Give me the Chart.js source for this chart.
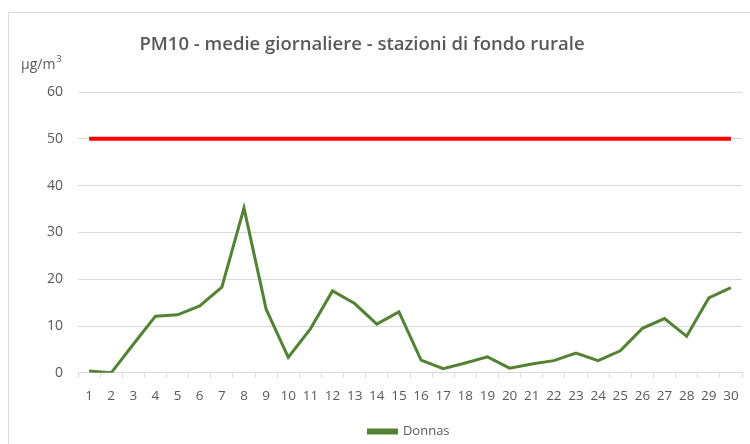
<!DOCTYPE html>
<html>
<head>
<meta charset="utf-8">
<script src="https://cdn.jsdelivr.net/npm/chart.js@4.4.1/dist/chart.umd.min.js"></script>
<style>
    body { margin: 0; background: #fff; }
    canvas { display: block; }
</style>
</head>
<body>
<canvas id="pmChart" width="750" height="444"></canvas>
<script>
// Dati
const giorni = ['1','2','3','4','5','6','7','8','9','10','11','12','13','14','15',
    '16','17','18','19','20','21','22','23','24','25','26','27','28','29','30'];
const donnas = [0.4, 0.0, 6.1, 12.1, 12.4, 14.3, 18.3, 35.2, 13.6, 3.3, 9.4, 17.5, 14.8, 10.4, 13.0,
    2.7, 0.9, 2.1, 3.4, 1.0, 1.9, 2.6, 4.2, 2.6, 4.7, 9.5, 11.6, 7.8, 16.0, 18.2];
const limite = 50;
const yMin = 0, yMax = 60, yStep = 10;

const titolo = 'PM10 - medie giornaliere - stazioni di fondo rurale';
const unita = 'µg/m';

const grigio = '#595959';
const fontFam = '"Open Sans", "Noto Sans", sans-serif';

// Cornice, titolo, unità di misura e posizione della legenda
const decorPlugin = {
    id: 'decor',
    afterLayout(chart) {
        // la legenda è centrata sull'area del grafico, non sulla tela
        if (chart.legend) chart.legend.left = 76;
    },
    beforeDraw(chart) {
        const ctx = chart.ctx;
        ctx.save();
        ctx.strokeStyle = '#d9d9d9';
        ctx.lineWidth = 1;
        ctx.strokeRect(8.5, 12.5, 800, 500);
        ctx.restore();
    },
    afterDraw(chart) {
        const ctx = chart.ctx;
        ctx.save();
        ctx.fillStyle = grigio;
        ctx.font = '600 18.5px ' + fontFam;
        ctx.textAlign = 'center';
        ctx.textBaseline = 'middle';
        ctx.fillText(titolo, 362, 45);

        ctx.font = '14px ' + fontFam;
        ctx.textAlign = 'left';
        ctx.textBaseline = 'alphabetic';
        ctx.fillText(unita, 21, 69);
        const w = ctx.measureText(unita).width;
        ctx.font = '9.5px ' + fontFam;
        ctx.fillText('3', 21 + w + 1, 62);
        ctx.restore();
    }
};

new Chart(document.getElementById('pmChart').getContext('2d'), {
    type: 'line',
    data: {
        labels: giorni,
        datasets: [
            {
                label: 'Limite',
                data: giorni.map(() => limite),
                borderColor: '#ff0000',
                backgroundColor: '#ff0000',
                borderWidth: 4,
                pointRadius: 0,
                tension: 0
            },
            {
                label: 'Donnas',
                data: donnas,
                borderColor: '#548235',
                backgroundColor: '#548235',
                borderWidth: 3,
                pointRadius: 0,
                tension: 0
            }
        ]
    },
    options: {
        responsive: false,
        animation: false,
        layout: {
            padding: { top: 92, left: 0, right: 8, bottom: -4 }
        },
        scales: {
            x: {
                type: 'category',
                offset: true,
                grid: {
                    offset: true,
                    drawOnChartArea: false,
                    drawTicks: true,
                    tickLength: 5,
                    color: '#d9d9d9'
                },
                border: { display: true, color: '#d9d9d9', width: 1 },
                ticks: {
                    color: grigio,
                    font: { family: fontFam, size: 13.5 },
                    maxRotation: 0,
                    autoSkip: false,
                    padding: 10
                }
            },
            y: {
                min: yMin,
                max: yMax,
                afterFit(scale) { scale.width = 78; },
                grid: { color: '#d9d9d9', drawTicks: false },
                border: { display: false },
                ticks: {
                    stepSize: yStep,
                    color: grigio,
                    font: { family: fontFam, size: 14 },
                    padding: 15
                }
            }
        },
        plugins: {
            legend: {
                position: 'bottom',
                labels: {
                    filter: item => item.text === 'Donnas',
                    boxWidth: 28,
                    boxHeight: 3,
                    color: grigio,
                    font: { family: fontFam, size: 13 },
                    padding: 11
                }
            },
            tooltip: { enabled: false },
            title: { display: false }
        }
    },
    plugins: [decorPlugin]
});
</script>
</body>
</html>
